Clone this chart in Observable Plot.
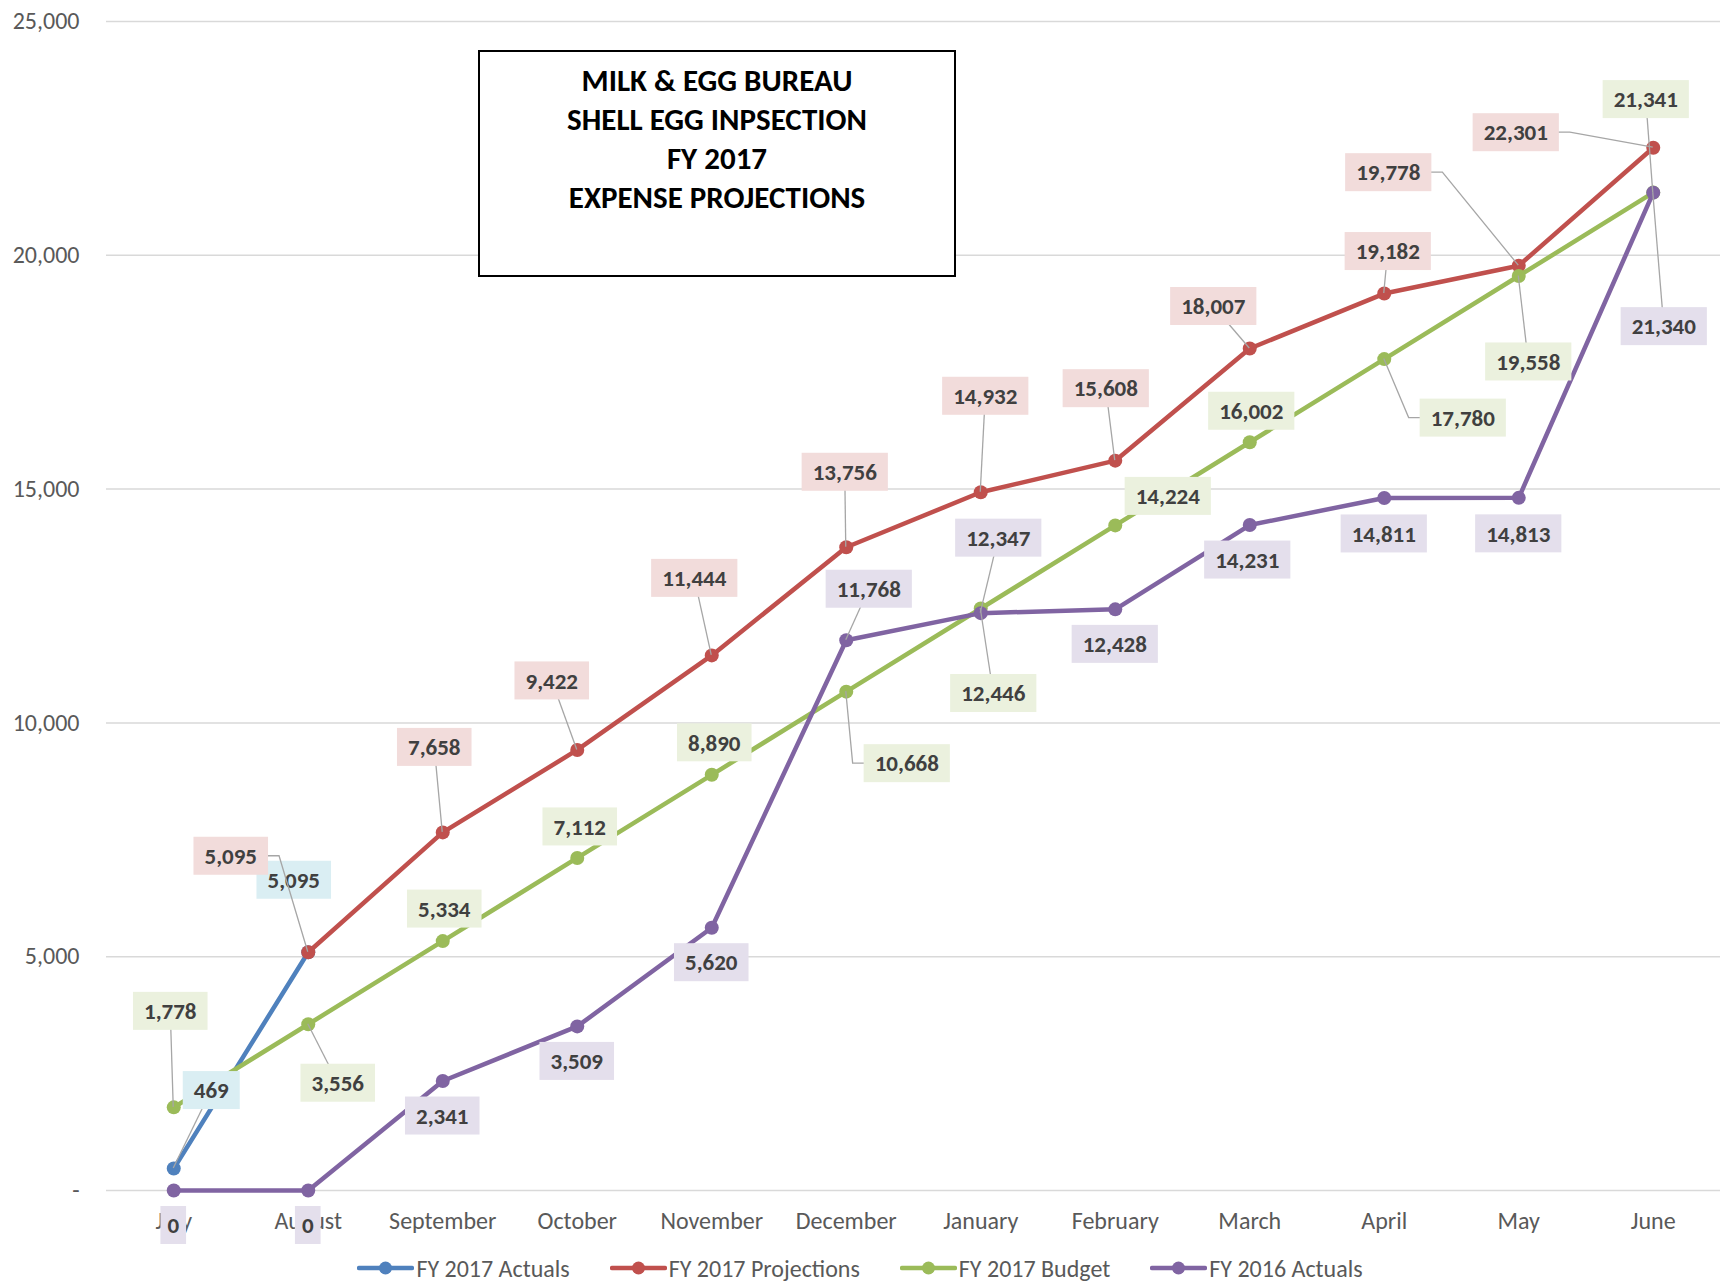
<!DOCTYPE html>
<html>
<head>
<meta charset="utf-8">
<script src="https://cdn.jsdelivr.net/npm/d3@7"></script>
<script src="https://cdn.jsdelivr.net/npm/@observablehq/plot@0.6"></script>
<style>
  body { margin: 0; background: #fff; }
  #wrap { position: relative; width: 1720px; height: 1285px; font-family: Carlito, Lato, "Open Sans", sans-serif; }
  #title {
    position: absolute; left: 478px; top: 50px; width: 478px; height: 227px;
    border: 2px solid #000; box-sizing: border-box; background: #fff;
    text-align: center; font-weight: 900; font-size: 31px; line-height: 39px;
    color: #000; padding-top: 9px;
  }
  #legend {
    position: absolute; left: 0; top: 1248px; width: 1720px; height: 40px;
    display: flex; justify-content: center; align-items: center; gap: 40px;
    font-size: 24px; color: #595959;
  }
  #legend .item { display: flex; align-items: center; gap: 2px; }
</style>
</head>
<body>
<div id="wrap">
  <div id="chart"></div>
  <div id="title">MILK &amp; EGG BUREAU<br>SHELL EGG INPSECTION<br>FY 2017<br>EXPENSE PROJECTIONS</div>
  <div id="legend"></div>
</div>
<script>
// Months of the fiscal year
const months = ["July", "August", "September", "October", "November", "December",
                "January", "February", "March", "April", "May", "June"];

// Cumulative expenses per series (null = no value for that month)
const fy2017Actuals     = [469, 5095, null, null, null, null, null, null, null, null, null, null];
const fy2017Projections = [null, 5095, 7658, 9422, 11444, 13756, 14932, 15608, 18007, 19182, 19778, 22301];
const fy2017Budget      = [1778, 3556, 5334, 7112, 8890, 10668, 12446, 14224, 16002, 17780, 19558, 21341];
const fy2016Actuals     = [0, 0, 2341, 3509, 5620, 11768, 12347, 12428, 14231, 14811, 14813, 21340];

// Y axis ticks
const yTicks = [0, 5000, 10000, 15000, 20000, 25000];

// Data label placement relative to each point, in pixels: [dx, dy, leader]
// leader: 0 = none, 1 = straight, 2 = elbow
const actualsLabelPos = [[38, -78, 1], [-14, -72, 0]];
const projectionsLabelPos = [null, [-77, -96, 2], [-8, -85, 1], [-25, -69, 1], [-17, -77, 1], [-1, -75, 1],
  [5, -96, 1], [-9, -72, 1], [-36, -42, 1], [4, -42, 1], [-130, -93, 2], [-137, -15, 2]];
const budgetLabelPos = [[-3, -96, 1], [30, 59, 1], [2, -32, 0], [3, -31, 0], [3, -32, 0], [61, 72, 2],
  [13, 85, 1], [53, -29, 0], [2, -31, 0], [79, 59, 2], [10, 86, 1], [-7, -93, 1]];
const fy2016LabelPos = [[0, 35, 0], [0, 35, 0], [0, 35, 0], [0, 35, 0], [0, 35, 0], [23, -51, 1],
  [18, -75, 1], [0, 35, 0], [-2, 35, 0], [0, 36, 0], [0, 36, 0], [11, 134, 1]];

const FONT = 'Carlito, Lato, "Open Sans", sans-serif';
const fmt = d3.format(",");

const series = [
  {name: "FY 2017 Actuals",     values: fy2017Actuals,     pos: actualsLabelPos,     color: "#4F81BD", bg: "#DAEEF3"},
  {name: "FY 2017 Projections", values: fy2017Projections, pos: projectionsLabelPos, color: "#C0504D", bg: "#F2DCDB"},
  {name: "FY 2017 Budget",      values: fy2017Budget,      pos: budgetLabelPos,      color: "#9BBB59", bg: "#EBF1DE"},
  {name: "FY 2016 Actuals",     values: fy2016Actuals,     pos: fy2016LabelPos,      color: "#8064A2", bg: "#E4DFEC"}
];

// Long-form rows for each series
const rows = s => s.values
  .map((v, i) => ({month: months[i], value: v, series: s.name, i}))
  .filter(d => d.value != null);

const labelRows = series.flatMap(s => rows(s).map(d => ({
  ...d, bg: s.bg, dx: s.pos[d.i][0], dy: s.pos[d.i][1], leader: s.pos[d.i][2]
})));

const LABEL_SIZE = 23;
const LABEL_WEIGHT = 900;
const BOX_H = 38;

// Data labels: boxed value text with optional leader line back to the point
function renderLabels(index, scales, values) {
  const g = d3.create("svg:g");
  const ctx = document.createElement("canvas").getContext("2d");
  ctx.font = `${LABEL_WEIGHT} ${LABEL_SIZE}px ${FONT}`;
  for (const i of index) {
    const d = labelRows[i];
    const px = values.x[i], py = values.y[i];
    const cx = px + d.dx, cy = py + d.dy;
    const text = fmt(d.value);
    const tw = ctx.measureText(text).width;
    const w = tw + (text.length > 1 ? 22 : 14);
    const x0 = cx - w / 2, x1 = cx + w / 2;
    if (d.leader === 1) {
      g.append("line").attr("x1", cx).attr("y1", cy).attr("x2", px).attr("y2", py)
        .attr("stroke", "#A6A6A6").attr("stroke-width", 1.3);
    } else if (d.leader === 2) {
      const ex = px > cx ? x1 + 11 : x0 - 11;
      g.append("path").attr("d", `M${cx},${cy}H${ex}L${px},${py}`)
        .attr("fill", "none").attr("stroke", "#A6A6A6").attr("stroke-width", 1.3);
    }
    g.append("rect").attr("x", x0).attr("y", cy - BOX_H / 2).attr("width", w).attr("height", BOX_H)
      .attr("fill", d.bg);
    g.append("text").attr("x", cx).attr("y", cy).attr("dy", "0.36em")
      .attr("text-anchor", "middle").attr("font-weight", LABEL_WEIGHT)
      .attr("font-size", LABEL_SIZE).attr("font-family", FONT).attr("fill", "#404040")
      .text(text);
  }
  return g.node();
}

const seriesMarks = series.flatMap(s => [
  Plot.line(rows(s), {x: "month", y: "value", stroke: s.color, strokeWidth: 4.5}),
  Plot.dot(rows(s), {x: "month", y: "value", fill: s.color, r: 7})
]);

const chart = Plot.plot({
  width: 1720,
  height: 1248,
  marginLeft: 106,
  marginRight: 0,
  marginTop: 21,
  marginBottom: 58,
  style: {fontFamily: FONT, background: "#fff", overflow: "visible"},
  x: {type: "point", domain: months, padding: 0.5, round: false},
  y: {domain: [0, 25000]},
  marks: [
    Plot.gridY(yTicks, {stroke: "#D9D9D9", strokeOpacity: 1, strokeWidth: 1.5}),
    Plot.axisY(yTicks, {
      tickSize: 0, tickPadding: 27, fontSize: 24, fill: "#595959", label: null,
      tickFormat: d => d === 0 ? "-" : fmt(d)
    }),
    Plot.axisX({tickSize: 0, tickPadding: 21, fontSize: 24, fill: "#595959", label: null}),
    ...seriesMarks,
    Plot.text(labelRows, {x: "month", y: "value", text: d => fmt(d.value), render: renderLabels})
  ]
});
document.getElementById("chart").append(chart);

// Legend below the chart
const legend = d3.select("#legend");
for (const s of series) {
  const item = legend.append("div").attr("class", "item");
  const sw = item.append("svg").attr("width", 57).attr("height", 20);
  sw.append("line").attr("x1", 2).attr("x2", 55).attr("y1", 10).attr("y2", 10)
    .attr("stroke", s.color).attr("stroke-width", 4.5).attr("stroke-linecap", "round");
  sw.append("circle").attr("cx", 28.5).attr("cy", 10).attr("r", 6.5).attr("fill", s.color);
  item.append("span").text(s.name);
}
</script>
</body>
</html>
